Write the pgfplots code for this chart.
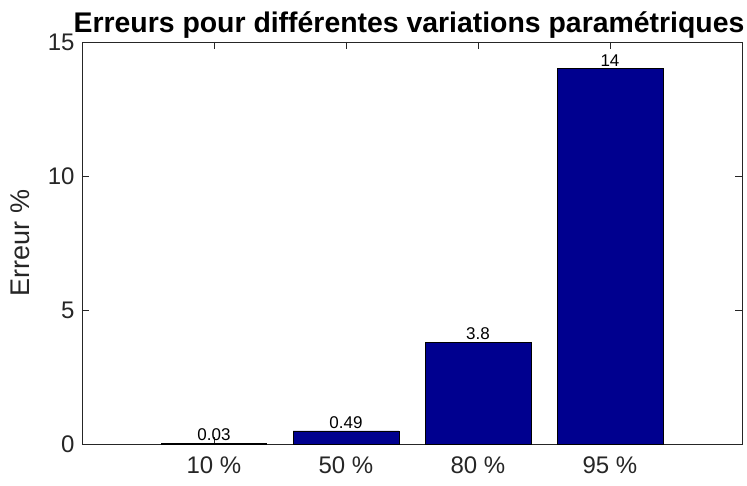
\documentclass[border=0pt]{standalone}
\usepackage{fontspec}
\setmainfont{Liberation Sans}
\usepackage{pgfplots}
\pgfplotsset{compat=1.18}
\definecolor{barblue}{rgb}{0,0,0.5625}
\definecolor{axgray}{rgb}{0.15,0.15,0.15}
\begin{document}
\begin{tikzpicture}
\begin{axis}[
  name=ax, at={(0,0)}, anchor=south west,
  width=660pt, height=402pt, scale only axis,
  xmin=0, xmax=5, ymin=0, ymax=15,
  xtick={1,2,3,4}, xticklabels={10 \%,50 \%,80 \%,95 \%},
  ytick={0,5,10,15},
  tick align=inside, major tick length=7pt,
  axis line style={axgray, line width=0.7pt},
  tick style={axgray, line width=0.7pt},
  ticklabel style={font=\fontsize{24}{28}\selectfont, text=axgray},
  xticklabel style={yshift=-9pt},
  yticklabel style={xshift=-4pt},
  /pgf/number format/assume math mode=true,
  ylabel={Erreur \%},
  ylabel style={font=\fontsize{27}{32}\selectfont, text=axgray, yshift=11pt},
]
\addplot[ybar, bar width=0.8, fill=barblue, draw=black, line width=0.6pt,
  nodes near coords, point meta=explicit symbolic,
  nodes near coords style={font=\fontsize{17}{20}\selectfont, text=black, anchor=south, inner sep=2pt}]
  table[meta=lab] {
x y lab
1 0.03 0.03
2 0.49 0.49
3 3.8 3.8
4 14 14
};
\end{axis}
\node[font=\fontsize{28.4}{33}\selectfont\bfseries, anchor=base, inner sep=0pt] at (327pt,411pt) {Erreurs pour différentes variations paramétriques};
\pgfresetboundingbox
\path (-82pt,-41pt) rectangle (665pt,444pt);
\end{tikzpicture}
\end{document}
